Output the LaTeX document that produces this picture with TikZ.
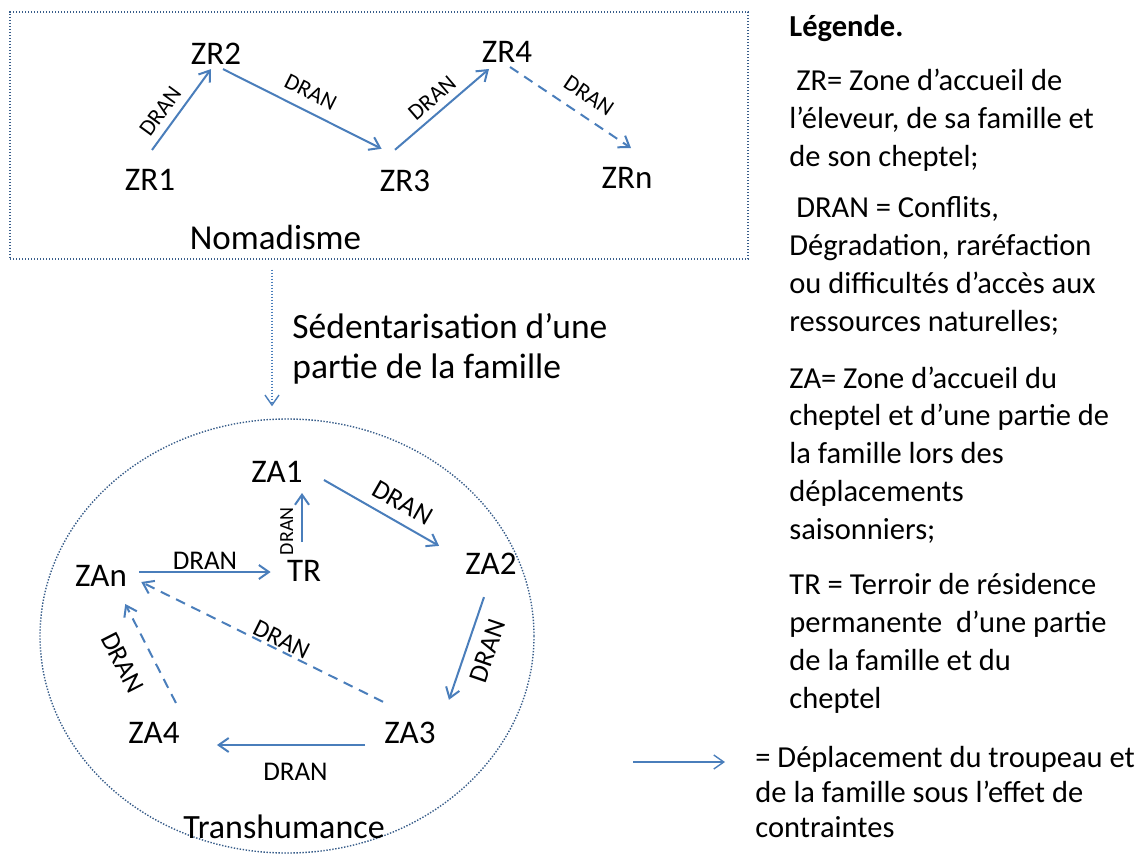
\documentclass[tikz,border=0pt]{standalone}
\usepackage{fontspec}
\setmainfont{Carlito}
\usepackage{tikz}
\usetikzlibrary{arrows.meta,shapes.geometric,positioning,calc}
\definecolor{moveblue}{RGB}{74,126,187}
\definecolor{zoneblue}{RGB}{56,93,138}

\begin{document}
\begin{tikzpicture}
[x=.5pt,y=-.5pt,
move/.style={draw=moveblue, line width=1pt, -{Straight Barb[length=5pt,width=7pt]}},
moveopt/.style={move, dash pattern=on 5pt off 3.5pt},
sed/.style={draw=moveblue, line width=.7pt, dash pattern=on .7pt off .8pt, -{Straight Barb[length=5pt,width=7pt]}, shorten <=5pt, shorten >=6pt},
zone/.style={draw=zoneblue, line width=.7pt, dash pattern=on .7pt off .8pt, inner sep=0pt},
place/.style={font=\fontsize{16.5}{20}\selectfont, inner sep=2pt},
dran/.style={font=\fontsize{13.5}{16}\selectfont, inner sep=1pt, sloped},
dransmall/.style={dran, font=\fontsize{11.5}{14}\selectfont},
legend/.style={font=\fontsize{15.25}{18.85}\selectfont, align=left, anchor=base west, inner sep=0pt}]
\useasboundingbox (0,0) rectangle (1138,856);
%% Nomadisme
\node (nomad) [zone, minimum width=369pt, minimum height=123.5pt] at (379,135.5) {};
\node (zr1) [place] at (150,180) {ZR1};
\node (zr2) [place] at (216,54) {ZR2};
\node (zr3) [place] at (405,181) {ZR3};
\node (zr4) [place] at (507,52) {ZR4};
\node (zrn) [place] at (627,178) {ZRn};
\node (nomadlbl) [place, font=\fontsize{17.5}{21}\selectfont, anchor=base] at (275.5,249) {Nomadisme};
%%
\draw[move] ([xshift=1pt,yshift=7.5pt]zr1.north) -- node[dransmall,pos=.36,above=2.8pt]{DRAN} ([xshift=-2.5pt]zr2.south);
\draw[move] ([xshift=3.5pt]zr2.south) -- node[dransmall,above=4.2pt]{DRAN} ([xshift=3pt,yshift=8.5pt]zr3.north west);
\draw[move] ([xshift=-5pt,yshift=8pt]zr3.north) -- node[dransmall,above=2.4pt]{DRAN} ([xshift=-9pt,yshift=-1pt]zr4.south);
\draw[moveopt] ([xshift=1.5pt]zr4.south) -- node[dransmall,pos=.56,above=4.8pt]{DRAN} ([xshift=2pt,yshift=7.5pt]zrn.north);
%% Sedentarisation
\node (transh) [zone, ellipse, minimum width=247pt, minimum height=217pt] at (287,636) {};
\coordinate (sedx) at (272,0);
\draw[sed] (nomad.south -| sedx) -- (transh.north -| sedx);
\node (sedlbl) [font=\fontsize{17.75}{20}\selectfont, align=left, anchor=base west, inner sep=0pt] at (292,378) {Sédentarisation d’une\\partie de la famille};
%% Transhumance
\node (za1) [place] at (277,472) {ZA1};
\node (za2) [place] at (491,564) {ZA2};
\node (tr) [place] at (304,571) {TR};
\node (zan) [place] at (101,576) {ZAn};
\node (za4) [place] at (154,733) {ZA4};
\node (za3) [place] at (410,733) {ZA3};
\node (translbl) [place, font=\fontsize{17}{20}\selectfont, anchor=base] at (284,838) {Transhumance};
%%
\draw[move] ([xshift=8.5pt,yshift=-4pt]za1.east) -- node[dran,pos=.6,above=3.8pt]{DRAN} ([xshift=-11pt,yshift=1.5pt]za2.north west);
\draw[move] ([xshift=-1pt,yshift=7pt]tr.north) -- node[dran,font=\fontsize{10}{12}\selectfont,pos=.22,above=3pt]{DRAN} ([xshift=-1pt,yshift=-3pt]tr.north |- za1.south);
\draw[move] ([xshift=4pt,yshift=2pt]zan.east) -- node[dran,above=0pt]{DRAN} ([xshift=-6pt,yshift=-.5pt]tr.west);
\draw[move] ([xshift=-3.5pt,yshift=-9pt]za2.south) -- node[dran,pos=.46,below=4.6pt]{DRAN} ([xshift=4.5pt,yshift=9pt]za3.north east);
\draw[move] ([xshift=-7.5pt,yshift=-6pt]za3.west) -- node[dran,pos=.47,below=7.75pt]{DRAN} ([xshift=16.5pt,yshift=-6pt]za4.east);
\draw[moveopt] ([xshift=1.5pt,yshift=8pt]za3.north west) -- node[dran,font=\fontsize{12.5}{15}\selectfont,pos=.44,above=0pt]{DRAN} ([xshift=5pt,yshift=-3pt]zan.east);
\draw[moveopt] ([xshift=-4pt,yshift=7.5pt]za4.north east) -- node[dran,pos=.54,below=8.7pt]{DRAN} ([xshift=-3pt,yshift=-6.5pt]zan.south east);
%% Legende
\node (leghead) [legend, font=\bfseries\fontsize{15.25}{18.85}\selectfont] at (789,37) {Légende.};
\node (legzr) [legend] at (789,166) {\ ZR= Zone d’accueil de\\l’éleveur, de sa famille et\\de son cheptel;};
\node (legdran) [legend] at (789,331) {\ DRAN = Conflits,\\Dégradation, raréfaction\\ou difficultés d’accès aux\\ressources naturelles;};
\node (legza) [legend] at (789,539) {ZA= Zone d’accueil du\\cheptel et d’une partie de\\la famille lors des\\déplacements\\saisonniers;};
\node (legtr) [legend] at (789,708) {TR = Terroir de résidence\\permanente\ \ d’une partie\\de la famille et du\\cheptel};
\node (legmove) [legend, font=\fontsize{15.25}{17.5}\selectfont] at (755,837) {= Déplacement du troupeau et\\de la famille sous l’effet de\\contraintes};
\coordinate (legstart) at (633,762);
\coordinate (legtip) at (725,762);
\draw[move, line width=.7pt] (legstart) -- (legtip);
%%
\end{tikzpicture}
\end{document}
